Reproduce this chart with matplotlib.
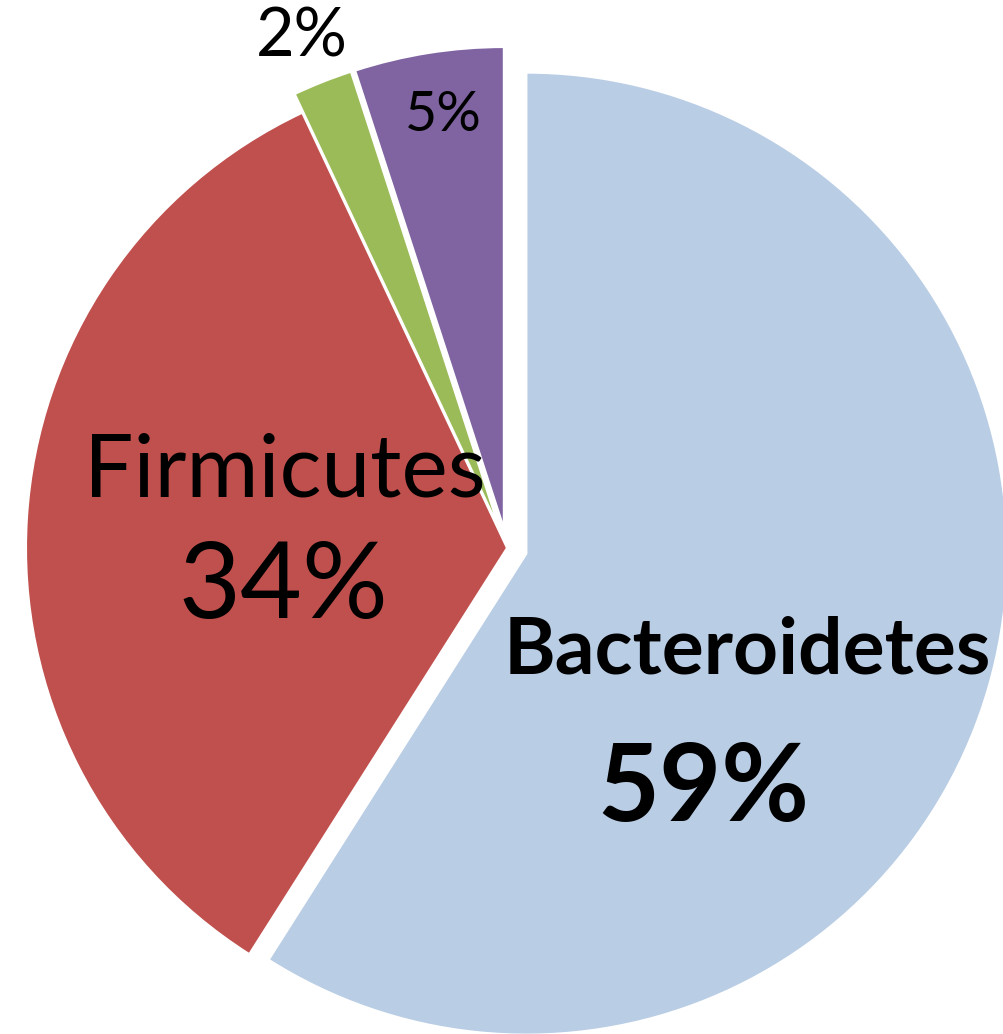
import matplotlib.pyplot as plt

# Datos del gráfico de pastel (porcentajes por filo)
categories = ['Bacteroidetes', 'Firmicutes', 'Otros 1', 'Otros 2']
values = [59, 34, 2, 5]
colors = ['#B9CDE5', '#C0504D', '#9BBB59', '#8064A2']
explode_frac = [0.042, 0.0, 0.042, 0.042]  # fracción del radio

W, H = 1004, 1034
fig = plt.figure(figsize=(W / 100, H / 100), dpi=100)
ax = fig.add_axes([0, 0, 1, 1])

cx, cy, r = 507, H - 548, 481
# en matplotlib el desplazamiento va en unidades de datos, no del radio
explode = [e * r for e in explode_frac]
ax.pie(values, colors=colors, explode=explode, startangle=90, counterclock=False,
       center=(cx, cy), radius=r,
       wedgeprops=dict(edgecolor='white', linewidth=1.5))
ax.set_xlim(0, W)
ax.set_ylim(0, H)
ax.set_aspect('equal')
ax.axis('off')

fuente = 'Lato'
ax.text(285, H - 472, 'Firmicutes', fontsize=63, family=fuente, ha='center', va='center')
ax.text(283, H - 588, f'{values[1]}%', fontsize=77, family=fuente, ha='center', va='center')
ax.text(747, H - 652, 'Bacteroidetes', fontsize=56.5, family=fuente, weight='bold', ha='center', va='center')
ax.text(703, H - 790, f'{values[0]}%', fontsize=77, family=fuente, weight='bold', ha='center', va='center')
ax.text(302, H - 37, f'{values[2]}%', fontsize=48, family=fuente, ha='center', va='center')
ax.text(443, H - 115, f'{values[3]}%', fontsize=40, family=fuente, ha='center', va='center')

fig.savefig('out.png', dpi=100)
